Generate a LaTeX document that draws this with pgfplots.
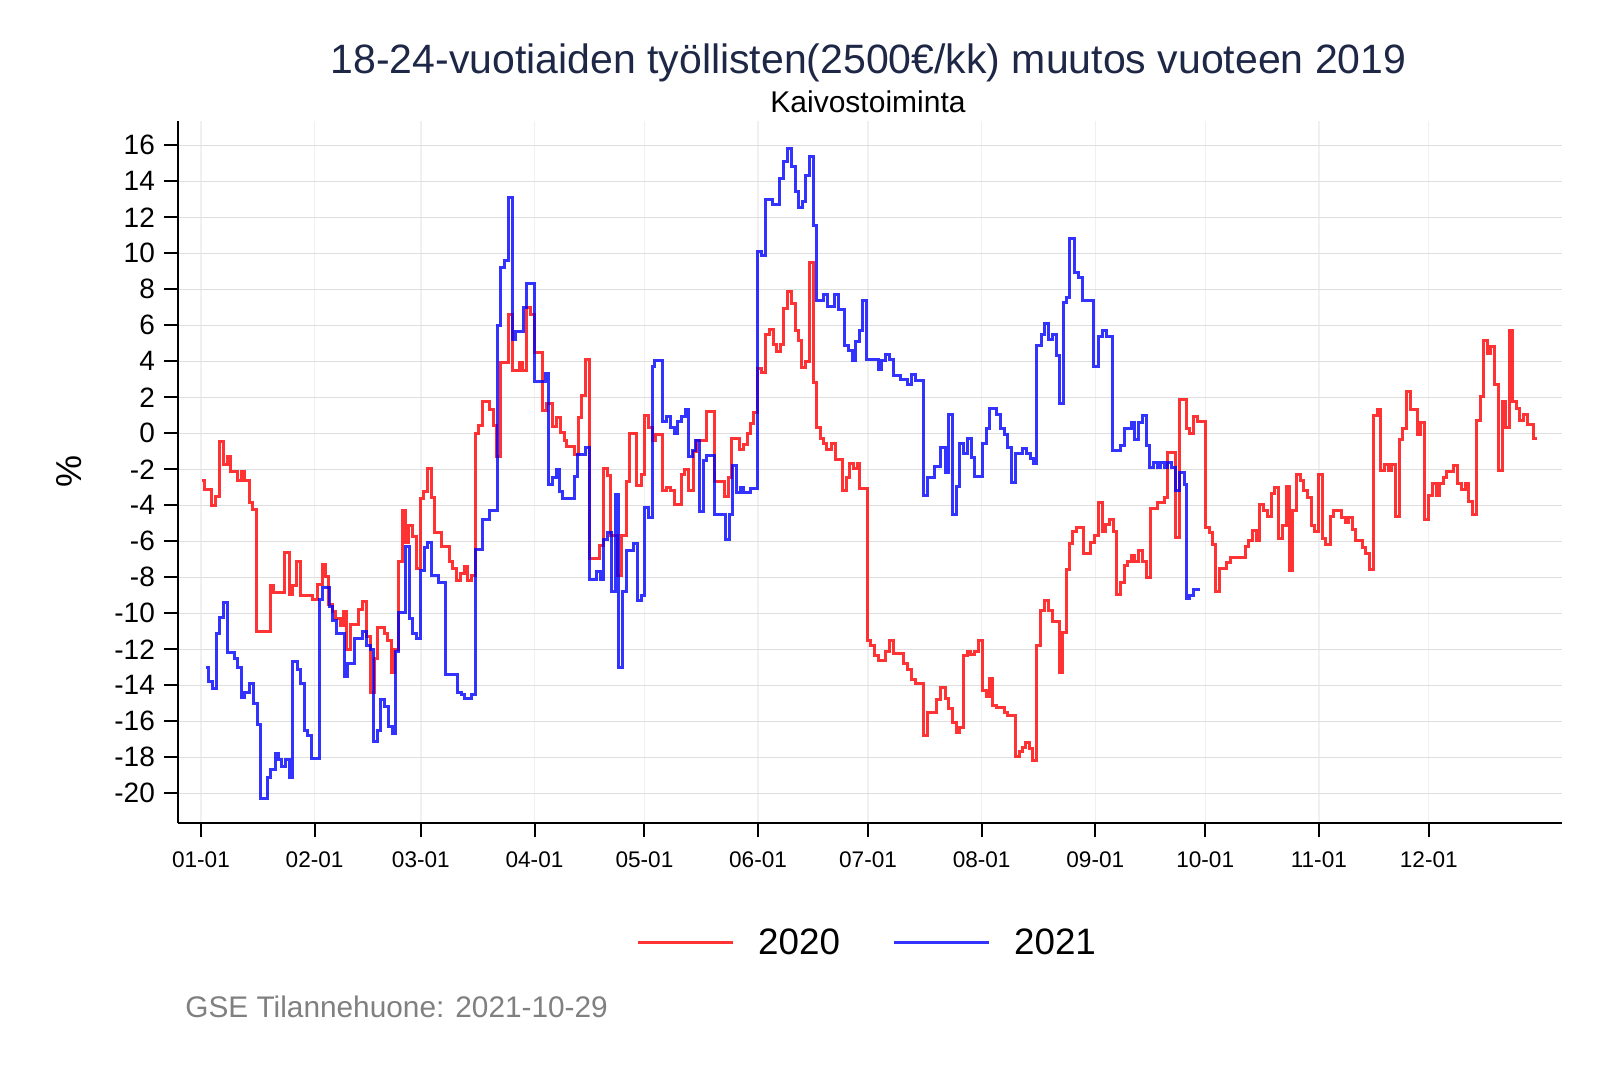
\documentclass[border=0pt]{standalone}
\usepackage{fontspec}
\setmainfont{Liberation Sans}
\usepackage{pgfplots}
\pgfplotsset{compat=1.18}
\definecolor{titlec}{RGB}{30,40,70}
\definecolor{gridy}{RGB}{222,222,222}
\definecolor{gridx}{RGB}{240,240,240}
\definecolor{footc}{RGB}{128,128,128}
\begin{document}
\begin{tikzpicture}
\path[use as bounding box] (0,0) rectangle (800pt,533.5pt);
\begin{axis}[
  at={(89.15pt,121.85pt)}, anchor=south west,
  scale only axis, width=691.85pt, height=351.15pt,
  xmin=-6.19, xmax=371.35, ymin=-21.67, ymax=17.35,
  axis x line*=bottom, axis y line*=left,
  axis line style={black, line width=1pt},
  every outer x axis line/.append style={-}, every outer y axis line/.append style={-},
  tick align=outside, major tick length=7pt,
  tick style={black, line width=1pt},
  xtick={0,31,60,91,121,152,182,213,244,274,305,335},
  xticklabels={01-01,02-01,03-01,04-01,05-01,06-01,07-01,08-01,09-01,10-01,11-01,12-01},
  ytick={-20,-18,...,16},
  /pgf/number format/assume math mode=true,
  xticklabel style={font=\fontsize{11.3pt}{13pt}\selectfont, yshift=-3.5pt},
  yticklabel style={font=\fontsize{14pt}{16pt}\selectfont, xshift=-1.2pt},
  grid=major,
  x grid style={gridx, line width=0.7pt},
  y grid style={gridy, line width=0.7pt},
  legend style={at={(0.4985,-0.17)}, anchor=center, draw=none, fill=none,
    font=\fontsize{18.4pt}{21pt}\selectfont, legend columns=2,
    /tikz/every odd column/.append style={column sep=10pt},
    /tikz/every even column/.append style={column sep=24pt}},
  legend image code/.code={\draw[#1] (0pt,0pt) -- (47.5pt,0pt);},
]
\addplot[const plot, color=red, opacity=0.8, line width=1.5pt] coordinates {
(0.4,-2.65) (0.9,-3.1) (2.9,-4.0) (4,-3.5) (5.1,-0.43) (6.2,-1.72) (7.1,-1.3) (8,-2.13)
(10,-2.6) (11.1,-2.13) (12,-2.6) (13.1,-3.85) (14,-4.26) (15.1,-11.0) (19.1,-8.48) (19.8,-8.85)
(22.9,-6.63) (24.2,-8.93) (25.1,-8.43) (26,-7.13) (27.1,-9.04) (30.5,-9.25) (31.8,-8.4) (33.1,-7.3)
(34,-7.96) (34.9,-9.5) (35.8,-9.9) (36.7,-10.3) (38,-10.7) (38.9,-9.9) (39.8,-12.0) (40.7,-10.6)
(43.1,-9.8) (44,-9.35) (45.1,-11.3) (46.2,-14.4) (47.3,-12.5) (48.2,-10.8) (50,-11.1) (50.9,-11.5)
(52,-13.3) (52.9,-12.0) (54,-7.15) (54.9,-4.3) (55.9,-6.06) (56.7,-5.13) (57.7,-5.76) (58.8,-7.5)
(59.9,-3.6) (60.8,-3.23) (61.7,-1.97) (62.8,-3.55) (63.7,-5.5) (65.7,-6.3) (67.7,-7.1) (68.7,-7.5)
(69.8,-8.2) (70.8,-7.8) (71.8,-7.4) (72.7,-8.2) (73.9,-7.9) (74.9,0) (75.8,0.45) (76.7,1.75)
(78.7,1.3) (79.8,0.45) (80.7,-1.27) (81.8,3.95) (84,6.6) (84.9,3.5) (86.9,3.95) (87.8,3.5)
(88.9,7.0) (89.8,6.6) (90.9,4.5) (93.1,1.25) (94.2,1.65) (96,0.4) (97.1,0.85) (98.2,0.06)
(99.1,-0.38) (99.8,-0.76) (102,-1.2) (102.9,0.85) (103.8,2.1) (104.8,4.1) (106,-6.95) (108.8,-6.26)
(109.7,-1.97) (110.8,-2.35) (111.7,-5.66) (113.7,-7.9) (114.8,-5.66) (116.1,-2.7) (116.8,0) (118.8,-2.9)
(120.1,-2.3) (121,0.96) (122,0.3) (123.1,-0.4) (124,-0.05) (126,-3.2) (127.1,-3.0) (128,-3.2)
(129.1,-3.94) (131.1,-2.28) (132,-2.0) (133.1,-3.2) (134.5,-1.0) (135.2,-0.4) (137.8,1.2) (140,-2.7)
(142.9,-3.5) (143.9,-2.46) (144.8,-0.3) (146.8,-0.9) (147.9,-0.6) (149,-0.04) (149.9,0.56) (150.8,1.15)
(151.9,3.6) (153,3.35) (153.9,5.5) (155,5.76) (156.1,4.94) (157,4.57) (158.1,4.94) (159,6.93)
(160.1,7.87) (161.2,7.2) (162.1,5.72) (163,5.13) (163.9,3.65) (165,4.0) (166.1,9.5) (167,2.8)
(167.9,0.32) (169,-0.28) (169.9,-0.57) (170.8,-0.89) (171.9,-0.57) (173,-1.44) (175,-3.2) (176,-2.46)
(176.9,-1.7) (178,-1.96) (179.1,-1.7) (179.8,-3.05) (181.8,-11.5) (182.8,-11.77) (183.7,-12.35) (184.8,-12.6)
(186.9,-12.1) (187.8,-11.5) (188.9,-12.25) (191.8,-12.8) (192.9,-13.1) (193.8,-13.7) (194.9,-13.9) (197,-16.8)
(198.1,-15.5) (200.8,-14.8) (201.9,-14.1) (203,-14.76) (203.9,-15.3) (205,-16.06) (206.1,-16.6) (207,-16.35)
(208.1,-12.35) (209.1,-12.15) (210,-12.3) (211.1,-12.1) (212.2,-11.5) (213.1,-14.3) (214.2,-14.6) (215.1,-13.6)
(216,-15.1) (217.1,-15.26) (219.2,-15.5) (220.1,-15.7) (222.3,-17.97) (223.2,-17.7) (224.1,-17.45) (225,-17.2)
(226.1,-17.5) (227,-18.16) (228.1,-11.8) (229.1,-9.87) (230.2,-9.3) (231.3,-9.87) (232.4,-10.44) (234.2,-13.3)
(235.1,-11.05) (236.2,-7.58) (237.1,-6.15) (237.9,-5.48) (238.8,-5.24) (240.8,-6.67) (242.8,-6.07) (243.7,-5.67)
(244.8,-3.85) (245.9,-5.43) (246.8,-5.06) (247.9,-4.8) (249,-5.43) (249.9,-8.94) (251,-8.3) (251.9,-7.37)
(252.8,-7.1) (253.9,-6.8) (254.8,-7.1) (255.8,-6.5) (256.9,-7.13) (258.1,-8.0) (259,-4.17) (260.9,-3.85)
(262.9,-3.57) (263.8,-1.07) (266,-5.8) (267.1,1.9) (268.9,0.28) (269.8,-0.02) (270.9,0.93) (272,0.63)
(274,-5.24) (275.1,-5.52) (276,-6.2) (276.9,-8.8) (278,-7.5) (279.8,-7.2) (280.9,-6.9) (284.9,-6.3)
(285.8,-5.98) (286.9,-5.39) (288,-5.94) (288.9,-3.98) (290,-4.28) (291.1,-4.65) (292,-3.35) (292.9,-3.0)
(294,-5.83) (295,-5.15) (296.1,-2.93) (297,-7.6) (297.9,-4.28) (299,-2.3) (300.1,-2.65) (300.9,-3.2)
(301.8,-3.57) (302.9,-5.1) (303.8,-5.43) (304.9,-2.28) (306,-5.85) (306.9,-6.17) (308.2,-4.63) (309.1,-4.31)
(311.1,-4.68) (312.2,-4.96) (313.1,-4.68) (314.2,-5.33) (315.1,-5.98) (316.9,-6.35) (317.8,-6.69) (318.9,-7.56)
(319.8,1.0) (320.9,1.33) (321.8,-2.06) (323,-1.72) (324.1,-2.06) (324.9,-1.72) (325.9,-4.6) (327,-0.37)
(327.9,0.28) (328.8,2.3) (329.9,1.33) (331.9,-0.06) (332.8,0.59) (333.9,-4.78) (335,-3.43) (335.9,-2.78)
(337,-3.43) (337.9,-2.78) (339,-2.46) (339.9,-2.13) (341.7,-1.78) (342.8,-2.8) (343.9,-3.1) (345,-2.8)
(345.9,-3.8) (346.8,-4.5) (347.9,0.69) (349,2.07) (349.9,5.13) (351,4.43) (351.9,4.8) (353,2.72)
(354,-2.06) (355,1.76) (355.9,0.31) (357,5.69) (357.9,1.76) (358.9,1.39) (359.8,0.69) (360.8,1.06)
(362,0.5) (363.5,-0.3) (364.5,-0.3)
};
\addlegendentry{2020}
\addplot[const plot, color=blue, opacity=0.8, line width=1.5pt] coordinates {
(1.45,-13.0) (2,-13.8) (3.1,-14.2) (4.2,-11.1) (5.1,-10.24) (6.2,-9.4) (7.1,-12.2) (9.1,-12.5)
(10,-13.0) (11.1,-14.7) (12,-14.4) (13.1,-13.9) (14.2,-15.0) (15.3,-16.2) (16.2,-20.3) (18.2,-19.1)
(19.1,-18.7) (20.2,-17.8) (21.1,-18.1) (22,-18.5) (23.1,-18.1) (24.2,-19.1) (25.1,-12.7) (26.2,-13.1)
(27.1,-13.9) (28.2,-16.5) (29.1,-16.8) (30.2,-18.05) (32.2,-9.26) (33.1,-8.56) (35.1,-9.6) (36,-10.4)
(37.1,-11.1) (39.1,-13.5) (40,-12.8) (42,-11.4) (44,-11.0) (45.1,-11.8) (46.2,-12.0) (47.1,-17.1)
(48.2,-16.5) (49.1,-14.8) (50.2,-15.2) (51.1,-16.3) (52.2,-16.7) (53.1,-12.1) (54,-9.94) (55.7,-6.3)
(56.8,-10.3) (57.7,-11.1) (58.8,-11.4) (59.9,-7.6) (61,-6.35) (61.9,-6.06) (62.8,-7.9) (64.8,-8.3)
(66.8,-13.4) (69.9,-14.4) (71,-14.5) (71.9,-14.75) (73.9,-14.5) (74.9,-6.45) (76.7,-4.8) (78.7,-4.3)
(80.9,6.0) (81.8,9.2) (82.9,9.6) (83.8,13.1) (84.9,5.2) (85.8,5.65) (88,7.0) (88.9,8.3)
(90.9,2.87) (94,3.3) (94.9,-2.87) (95.8,-2.44) (96.9,-2.0) (97.8,-3.25) (98.7,-3.63) (101.8,-2.4)
(102.8,-1.2) (104.9,-0.8) (105.9,-8.1) (108,-7.7) (109,-8.1) (109.9,-5.9) (110.8,-5.5) (111.9,-8.8)
(113,-3.4) (113.9,-13.0) (115,-8.77) (116.1,-6.5) (117.9,-6.1) (119,-9.3) (120.1,-9.0) (121.1,-4.1)
(122,-4.7) (123.1,3.7) (123.8,4.06) (126,0.65) (127.1,0.93) (128.2,0.31) (129.1,0.0) (130,0.65)
(131.1,0.93) (132.2,1.3) (133.1,-1.3) (134,-0.98) (134.9,-0.39) (136,-4.37) (137,-1.5) (138,-1.26)
(140.1,-4.5) (143,-5.9) (144.1,-4.5) (145,-1.8) (146.1,-3.3) (147.2,-3.0) (148.1,-3.3) (149.9,-3.05)
(151.9,10.1) (153,9.85) (153.9,13.0) (155.9,12.7) (157.9,14.15) (159,15.1) (160.1,15.8) (161.2,14.8)
(162.1,13.46) (163,12.57) (164.1,12.9) (165,14.3) (166.1,15.35) (167,11.55) (167.9,7.4) (169.9,7.7)
(171,7.07) (172.8,7.7) (173.9,6.9) (175.7,4.9) (176.6,4.6) (177.7,4.05) (178.6,5.1) (179.7,5.7)
(180.6,7.4) (181.7,4.1) (184.8,3.55) (185.8,4.05) (186.9,4.4) (187.8,4.1) (188.9,3.23) (190.9,3.0)
(192.9,2.7) (193.8,3.25) (194.9,2.95) (197,-3.44) (198.1,-2.43) (200.1,-1.86) (201.9,-0.81) (203,-2.2)
(203.9,1.06) (205,-4.5) (206.1,-2.95) (207,-0.58) (208.1,-1.1) (209.1,-0.28) (210.2,-1.34) (211.1,-2.4)
(213.1,-0.58) (214.2,0.28) (215.1,1.35) (217.1,1.06) (218.2,0.24) (219.2,-0.05) (220.1,-0.81) (221.2,-2.75)
(222.3,-1.13) (224.1,-0.85) (225.2,-1.13) (226.3,-1.38) (227.2,-1.67) (228.1,4.85) (229.2,5.48) (230.2,6.09)
(231.3,5.2) (232.4,5.48) (233.3,4.34) (234.2,1.67) (235.3,7.24) (236.2,7.54) (237.1,10.8) (238.2,8.95)
(239.3,8.63) (240.5,7.35) (243.5,3.7) (244.8,5.4) (245.9,5.7) (247,5.4) (248.8,-0.98) (250.8,-0.7)
(251.9,0.28) (253.9,0.6) (254.8,-0.33) (255.8,0.6) (256.9,0.96) (258,-0.67) (258.9,-1.9) (259.8,-1.63)
(260.9,-1.9) (261.8,-1.63) (262.9,-1.9) (263.8,-1.63) (264.9,-1.9) (266,-3.2) (267.1,-2.2) (268.3,-2.83)
(268.9,-9.2) (269.8,-9.04) (270.9,-8.7) (272.7,-8.7)
};
\addlegendentry{2021}
\end{axis}
\node[font=\fontsize{20.5pt}{24pt}\selectfont, text=titlec] at (434.25pt,502pt) {18-24-vuotiaiden työllisten(2500€/kk) muutos vuoteen 2019};
\node[font=\fontsize{15pt}{17pt}\selectfont] at (434pt,482.5pt) {Kaivostoiminta};
\node[font=\fontsize{18pt}{20pt}\selectfont, rotate=90] at (34.6pt,298pt) {\%};
\node[font=\fontsize{14.9pt}{17pt}\selectfont, text=footc, anchor=west, inner sep=0pt] at (92.5pt,30pt) {GSE Tilannehuone: 2021-10-29};
\end{tikzpicture}
\end{document}
